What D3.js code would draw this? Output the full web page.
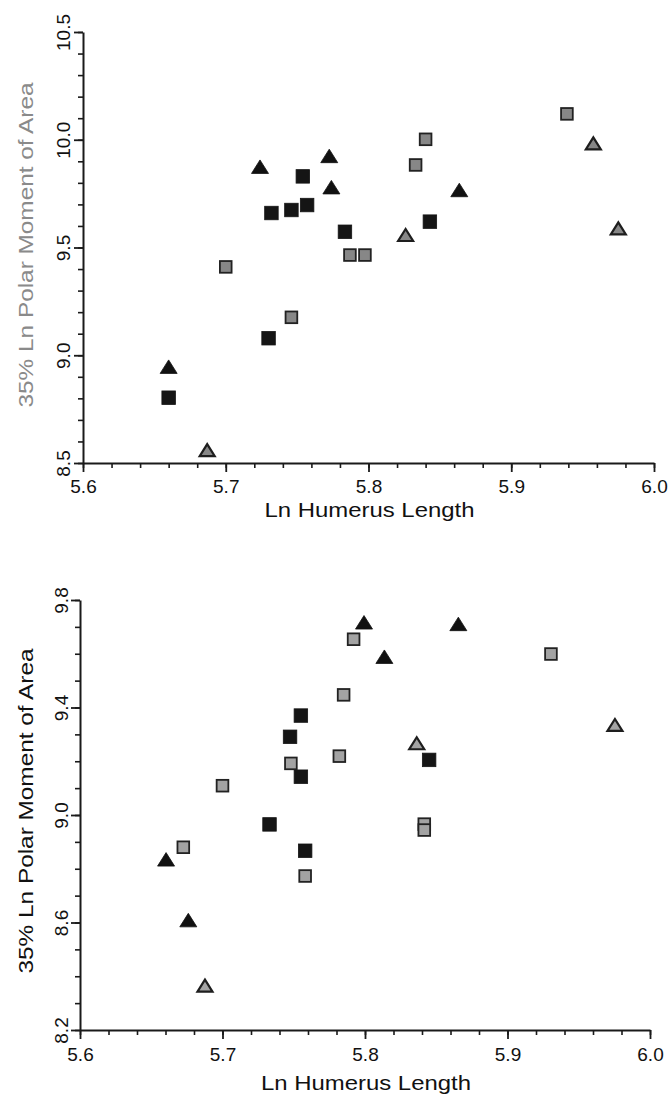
<!DOCTYPE html>
<html>
<head>
<meta charset="utf-8">
<script src="https://cdn.jsdelivr.net/npm/d3@7"></script>
<style>
  body { margin: 0; background: #fff; }
  svg { display: block; }
</style>
</head>
<body>
<svg id="fig" width="671" height="1095"></svg>
<script>
// ---- Upper panel: [Ln humerus length, 35% Ln polar moment of area] ----
const upperBlackSquares = [[5.754, 9.83], [5.732, 9.66], [5.746, 9.674], [5.757, 9.697],
  [5.7835, 9.573], [5.730, 9.079], [5.660, 8.803], [5.843, 9.62]];
const upperGraySquares = [[5.787, 9.465], [5.7975, 9.465], [5.700, 9.41], [5.746, 9.176],
  [5.939, 10.12], [5.840, 10.002], [5.833, 9.883]];
const upperBlackTriangles = [[5.724, 9.875], [5.7725, 9.925], [5.774, 9.78], [5.660, 8.947],
  [5.8636, 9.767]];
const upperGrayTriangles = [[5.687, 8.56], [5.9575, 9.983], [5.826, 9.558], [5.975, 9.589]];

// ---- Lower panel ----
const lowerBlackSquares = [[5.755, 9.37], [5.7474, 9.291], [5.755, 9.1425], [5.733, 8.965],
  [5.758, 8.867], [5.845, 9.205]];
const lowerGraySquares = [[5.792, 9.654], [5.785, 9.447], [5.782, 9.219], [5.748, 9.192],
  [5.700, 9.109], [5.6725, 8.88], [5.758, 8.773], [5.9305, 9.599], [5.8416, 8.966],
  [5.8416, 8.944]];
const lowerBlackTriangles = [[5.7993, 9.717], [5.8136, 9.589], [5.6604, 8.835], [5.676, 8.609],
  [5.8655, 9.711]];
const lowerGrayTriangles = [[5.6877, 8.365], [5.9754, 9.335], [5.8363, 9.267]];

// ---- Axis ticks ----
const xMajorTicks = [5.6, 5.7, 5.8, 5.9, 6.0];
const upperYMajorTicks = [8.5, 9.0, 9.5, 10.0, 10.5];
const lowerYMajorTicks = [8.2, 8.6, 9.0, 9.4, 9.8];

const xTitle = "Ln Humerus Length";
const yTitle = "35% Ln Polar Moment of Area";

const svg = d3.select("#fig");
const FONT = "'Liberation Sans', Arial, Helvetica, sans-serif";

function minorTicks(lo, hi, step) {
  const n = Math.round((hi - lo) / step);
  return d3.range(n + 1).map(i => +(lo + i * step).toFixed(4));
}

function drawPanel(p) {
  const x = d3.scaleLinear().domain([5.6, 6.0]).range([p.left, p.right]);
  const y = d3.scaleLinear().domain(p.yDomain).range([p.bottom, p.top]);
  const g = svg.append("g");

  // x axis: minor ticks, then major ticks with labels
  g.append("g")
    .attr("transform", `translate(0,${p.bottom})`)
    .call(d3.axisBottom(x).tickValues(minorTicks(5.6, 6.0, 0.02)).tickSize(5).tickSizeOuter(0).tickFormat(""))
    .call(a => a.select(".domain").attr("stroke-width", 2).attr("stroke", "#1a1a1a"))
    .call(a => a.selectAll(".tick line").attr("stroke-width", 1.6).attr("stroke", "#1a1a1a"));
  g.append("g")
    .attr("transform", `translate(0,${p.bottom})`)
    .call(d3.axisBottom(x).tickValues(xMajorTicks).tickSize(9).tickSizeOuter(0).tickFormat(d3.format(".1f")))
    .call(a => a.select(".domain").remove())
    .call(a => a.selectAll(".tick line").attr("stroke-width", 1.8).attr("stroke", "#1a1a1a"))
    .call(a => a.selectAll(".tick text")
      .attr("y", p.xLabelDy).attr("dy", 0)
      .attr("font-family", FONT).attr("font-size", 19).attr("fill", "#111"));

  // y axis: minor ticks, then rotated major labels
  g.append("g")
    .attr("transform", `translate(${p.left},0)`)
    .call(d3.axisLeft(y).tickValues(minorTicks(p.yDomain[0], p.yDomain[1], 0.1)).tickSize(5).tickSizeOuter(0).tickFormat(""))
    .call(a => a.select(".domain").attr("stroke-width", 2).attr("stroke", "#1a1a1a"))
    .call(a => a.selectAll(".tick line").attr("stroke-width", 1.6).attr("stroke", "#1a1a1a"));
  g.append("g")
    .attr("transform", `translate(${p.left},0)`)
    .call(d3.axisLeft(y).tickValues(p.yTicks).tickSize(9).tickSizeOuter(0).tickFormat(d3.format(".1f")))
    .call(a => a.select(".domain").remove())
    .call(a => a.selectAll(".tick line").attr("stroke-width", 1.8).attr("stroke", "#1a1a1a"))
    .call(a => a.selectAll(".tick text")
      .attr("transform", "rotate(-90)")
      .attr("x", 0).attr("y", -p.yLabelGap).attr("dy", 0)
      .attr("text-anchor", "middle")
      .attr("font-family", FONT).attr("font-size", 19).attr("fill", "#111"));

  // axis titles
  g.append("text")
    .attr("x", (p.left + p.right) / 2 + 1).attr("y", p.xTitleY)
    .attr("text-anchor", "middle")
    .attr("font-family", FONT).attr("font-size", 21)
    .attr("textLength", 210).attr("lengthAdjust", "spacingAndGlyphs")
    .attr("fill", "#111")
    .text(xTitle);
  g.append("text")
    .attr("transform", `translate(33,${p.yTitleCenter}) rotate(-90)`)
    .attr("text-anchor", "middle")
    .attr("font-family", FONT).attr("font-size", 21)
    .attr("textLength", 325).attr("lengthAdjust", "spacingAndGlyphs")
    .attr("fill", p.yTitleColor)
    .text(yTitle);

  // markers
  const sq = 13.5;
  const drawSquares = (data, fill, stroke, sw) => g.append("g").selectAll("rect")
    .data(data).join("rect")
    .attr("x", d => x(d[0]) - sq / 2).attr("y", d => y(d[1]) - sq / 2)
    .attr("width", sq).attr("height", sq)
    .attr("fill", fill).attr("stroke", stroke).attr("stroke-width", sw);
  const tri = (d, w, h) => {
    const cx = x(d[0]), cy = y(d[1]);
    return `M${cx - w / 2},${cy + h / 2}L${cx + w / 2},${cy + h / 2}L${cx},${cy - h / 2}Z`;
  };
  const drawTriangles = (data, fill, stroke, sw, w, h) => g.append("g").selectAll("path")
    .data(data).join("path")
    .attr("d", d => tri(d, w, h))
    .attr("fill", fill).attr("stroke", stroke).attr("stroke-width", sw)
    .attr("stroke-linejoin", "miter");

  drawSquares(p.blackSquares, "#151515", "#151515", 0.8);
  drawSquares(p.graySquares, p.grayFill, "#222", 1.8)
    .attr("x", d => x(d[0]) - (sq - 1.8) / 2).attr("y", d => y(d[1]) - (sq - 1.8) / 2)
    .attr("width", sq - 1.8).attr("height", sq - 1.8);
  drawTriangles(p.blackTriangles, "#111", "#111", 0.8, 17, 13.5);
  drawTriangles(p.grayTriangles, p.grayFill, "#1e1e1e", 2.2, 15, 12);
}

drawPanel({
  left: 83, right: 654, top: 32, bottom: 463,
  yDomain: [8.5, 10.5], yTicks: upperYMajorTicks,
  xLabelDy: 30, yLabelGap: 13, xTitleY: 517, yTitleCenter: 245,
  yTitleColor: "#8a8a8a", grayFill: "#878787",
  blackSquares: upperBlackSquares, graySquares: upperGraySquares,
  blackTriangles: upperBlackTriangles, grayTriangles: upperGrayTriangles
});

drawPanel({
  left: 80, right: 650, top: 600, bottom: 1030,
  yDomain: [8.2, 9.8], yTicks: lowerYMajorTicks,
  xLabelDy: 31, yLabelGap: 12, xTitleY: 1090, yTitleCenter: 811,
  yTitleColor: "#111", grayFill: "#a3a3a3",
  blackSquares: lowerBlackSquares, graySquares: lowerGraySquares,
  blackTriangles: lowerBlackTriangles, grayTriangles: lowerGrayTriangles
});
</script>
</body>
</html>
